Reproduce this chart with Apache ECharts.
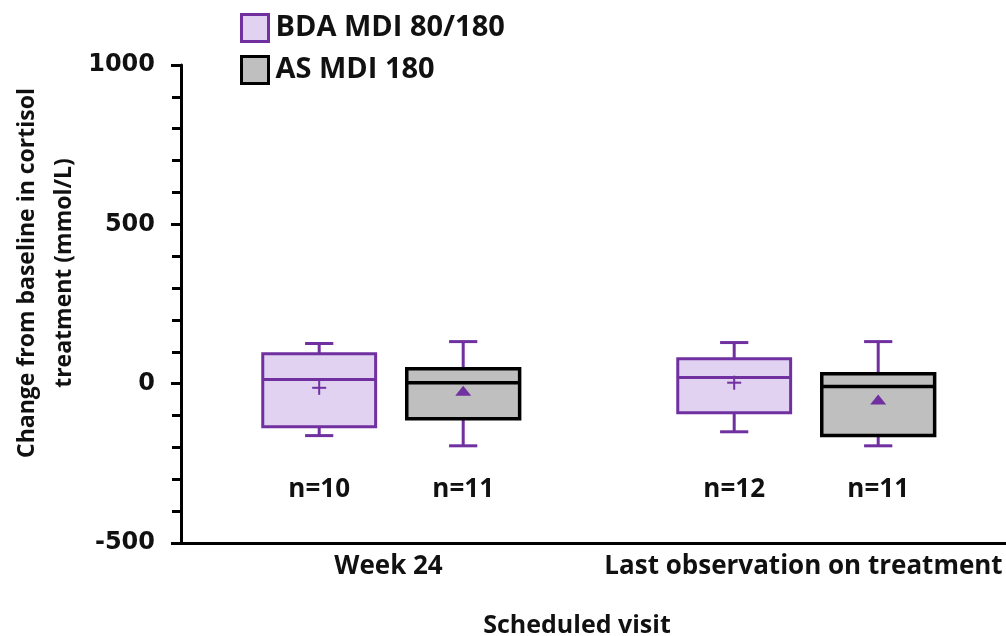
<!DOCTYPE html>
<html><head><meta charset="utf-8">
<script src="https://cdn.jsdelivr.net/npm/echarts@6/dist/echarts.min.js"></script>
<style>html,body{margin:0;padding:0;background:#fff}#c{width:1006px;height:636px}</style>
</head><body><div id="c"></div>
<script>
// ---- data ----
const categories = ['Week 24', 'Last observation on treatment'];
const seriesNames = ['BDA MDI 80/180', 'AS MDI 180'];
// each row: [whiskerLow, Q1, median, Q3, whiskerHigh, mean]
const bdaWeek24 = [-163, -135, 13, 94, 126, -13];
const bdaLast = [-151, -91, 19, 78, 129, 3];
const asWeek24 = [-195, -110, 3, 47, 132, -22];
const asLast = [-195, -163, -9, 31, 132, -50];
const bdaN = [10, 12];
const asN = [11, 11];
const yMin = -500, yMax = 1000, yStep = 500;
const yTitle = 'Change from baseline in cortisol\ntreatment (mmol/L)';
const xTitle = 'Scheduled visit';

// ---- styles ----
const PURPLE = '#7030a0';
const LAVENDER = '#e0d2f0';
const GREY = '#bfbfbf';
const TXT = '#111';
const FONT = '"Open Sans", "Noto Sans", sans-serif';

function rows(stats, ns) {
  return stats.map((s, i) => [i].concat(s).concat([ns[i]]));
}

function makeRender(cfg) {
  return function (params, api) {
    const cat = api.value(0);
    const band = api.size([1, 0])[0];
    const cx = api.coord([cat, 0])[0] + cfg.offset * band;
    const w = band * 0.272, half = w / 2, cap = band * 0.034;
    const Y = i => api.coord([cat, api.value(i)])[1];
    const lo = Y(1), q1 = Y(2), med = Y(3), q3 = Y(4), hi = Y(5), mean = Y(6);
    const base = api.coord([cat, yMin])[1];
    const wS = { stroke: PURPLE, lineWidth: 3 };
    const ch = [
      { type: 'line', shape: { x1: cx, y1: q3, x2: cx, y2: hi }, style: wS },
      { type: 'line', shape: { x1: cx - cap, y1: hi, x2: cx + cap, y2: hi }, style: wS },
      { type: 'line', shape: { x1: cx, y1: q1, x2: cx, y2: lo }, style: wS },
      { type: 'line', shape: { x1: cx - cap, y1: lo, x2: cx + cap, y2: lo }, style: wS },
      { type: 'rect', shape: { x: cx - half, y: q3, width: w, height: q1 - q3 },
        style: { fill: cfg.fill, stroke: cfg.stroke, lineWidth: cfg.lw } },
      { type: 'line', shape: { x1: cx - half, y1: med, x2: cx + half, y2: med },
        style: { stroke: cfg.stroke, lineWidth: cfg.lw } }
    ];
    if (cfg.mean === 'plus') {
      ch.push({ type: 'line', shape: { x1: cx - 7, y1: mean, x2: cx + 7, y2: mean }, style: { stroke: PURPLE, lineWidth: 2 } });
      ch.push({ type: 'line', shape: { x1: cx, y1: mean - 7, x2: cx, y2: mean + 7 }, style: { stroke: PURPLE, lineWidth: 2 } });
    } else {
      ch.push({ type: 'polygon', shape: { points: [[cx - 8, mean + 5], [cx + 8, mean + 5], [cx, mean - 5]] }, style: { fill: PURPLE } });
    }
    ch.push({ type: 'text', style: { text: 'n=' + api.value(7), x: cx, y: base - 53, align: 'center', verticalAlign: 'middle',
      fontSize: 26, fontWeight: 'bold', fontFamily: FONT, fill: TXT } });
    return { type: 'group', children: ch };
  };
}

const chart = echarts.init(document.getElementById('c'));
chart.setOption({
  animation: false,
  backgroundColor: '#fff',
  grid: { left: 181, right: -5, top: 65, bottom: 93, outerBoundsMode: 'none', containLabel: false },
  legend: {
    orient: 'vertical', left: 235, top: 8, itemWidth: 27, itemHeight: 27, itemGap: 12,
    textStyle: { fontSize: 29, fontWeight: 'bold', fontFamily: FONT, color: TXT, padding: [0, 0, 0, 2] },
    data: [
      { name: seriesNames[0], icon: 'rect', itemStyle: { color: LAVENDER, borderColor: PURPLE, borderWidth: 3 } },
      { name: seriesNames[1], icon: 'rect', itemStyle: { color: GREY, borderColor: '#000', borderWidth: 3 } }
    ]
  },
  xAxis: {
    type: 'category', data: categories, boundaryGap: true,
    name: xTitle, nameLocation: 'middle', nameGap: 70,
    nameTextStyle: { fontSize: 25, fontWeight: 'bold', fontFamily: FONT, color: TXT, padding: [0, 38, 0, 0] },
    axisLine: { onZero: false, lineStyle: { color: '#000', width: 3 } },
    axisTick: { show: false },
    axisLabel: { interval: 0, hideOverlap: false, fontSize: 26, fontWeight: 'bold', fontFamily: FONT, color: TXT, margin: 11 }
  },
  yAxis: {
    type: 'value', min: yMin, max: yMax, interval: yStep,
    axisLine: { show: true, lineStyle: { color: '#000', width: 3 } },
    axisTick: { show: true, length: 10, lineStyle: { color: '#000', width: 3 } },
    minorTick: { show: true, splitNumber: 5, length: 9, lineStyle: { color: '#000', width: 3 } },
    splitLine: { show: false },
    axisLabel: { formatter: v => String(v), fontSize: 24, fontWeight: 'bold', fontFamily: '"DejaVu Sans", sans-serif', color: TXT, margin: 26 }
  },
  graphic: [{
    type: 'text', rotation: Math.PI / 2, x: 46, y: 273,
    style: { text: yTitle, align: 'center', verticalAlign: 'middle', fontSize: 23, fontWeight: 'bold',
      fontFamily: FONT, fill: TXT, lineHeight: 37 }
  }],
  series: [
    { name: seriesNames[0], type: 'custom', renderItem: makeRender({ offset: -0.167, fill: LAVENDER, stroke: PURPLE, lw: 3, mean: 'plus' }),
      itemStyle: { color: LAVENDER, borderColor: PURPLE, borderWidth: 3 },
      encode: { x: 0, y: [1, 2, 3, 4, 5] }, data: rows([bdaWeek24, bdaLast], bdaN) },
    { name: seriesNames[1], type: 'custom', renderItem: makeRender({ offset: 0.18, fill: GREY, stroke: '#000', lw: 3.5, mean: 'tri' }),
      itemStyle: { color: GREY, borderColor: '#000', borderWidth: 3 },
      encode: { x: 0, y: [1, 2, 3, 4, 5] }, data: rows([asWeek24, asLast], asN) }
  ]
});
</script>
</body></html>
